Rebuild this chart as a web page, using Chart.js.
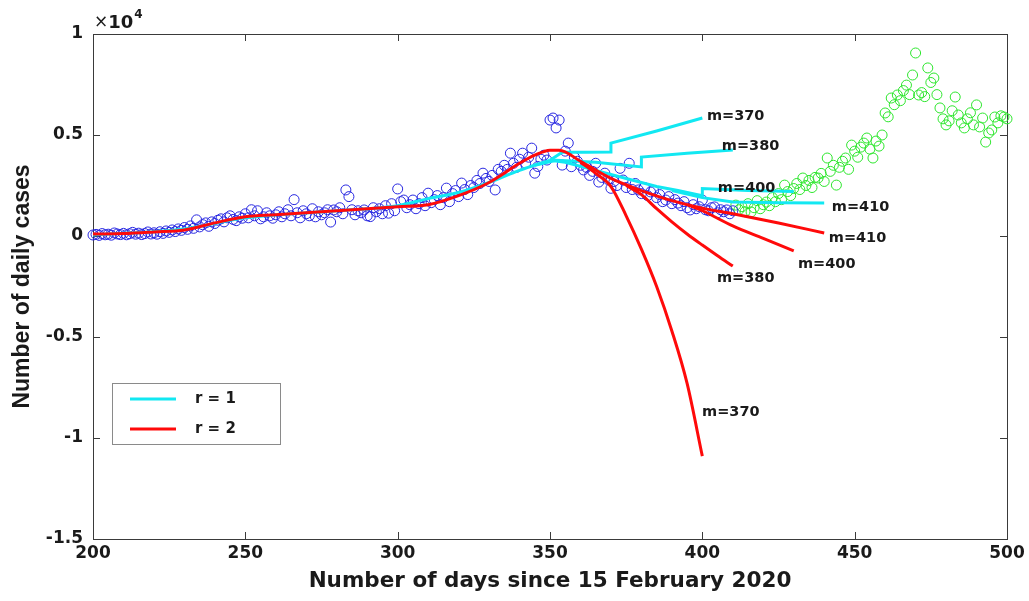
<!DOCTYPE html>
<html><head><meta charset="utf-8">
<script src="https://cdn.jsdelivr.net/npm/chart.js@4/dist/chart.umd.min.js"></script>
<style>html,body{margin:0;padding:0;background:#fff;overflow:hidden}canvas{display:block}</style>
</head><body>
<canvas id="c" width="1029" height="601"></canvas>
<script>
// ---------------- DATA ----------------
const xTickValues = [200, 250, 300, 350, 400, 450, 500];
const yTickValues = [-15000, -10000, -5000, 0, 5000, 10000];
const yExponentLabel = '×10';
const yExponent = '4';

// observed daily cases used for fitting (blue), days 200..410
const fitStartDay = 200;
const fitCases = [
  50, 80, 30, 120, 60, 90, 40, 150, 100, 70,
  130, 60, 110, 180, 90, 140, 70, 120, 200, 100,
  160, 90, 210, 130, 250, 180, 300, 220, 350, 280,
  420, 330, 500, 380, 800, 450, 560, 650, 480, 700,
  620, 780, 850, 700, 900, 1000, 820, 760, 950, 880,
  1100, 900, 1300, 1000, 1250, 850, 950, 1150, 1000, 880,
  1050, 1200, 950, 1100, 1300, 1000, 1800, 1150, 900, 1250,
  1100, 1000, 1350, 950, 1200, 1050, 1150, 1300, 690, 1290,
  1200, 1400, 1100, 2280, 1950, 1300, 1050, 1250, 1150, 1290,
  1000, 960, 1400, 1200, 1350, 1100, 1500, 1130, 1600, 1250,
  2330, 1700, 1780, 1400, 1550, 1780, 1350, 1600, 1900, 1500,
  2120, 1650, 1800, 2000, 1550, 1900, 2370, 1700, 2100, 2250,
  1950, 2620, 2300, 2050, 2500, 2400, 2750, 2600, 3110, 2850,
  2700, 3000, 2280, 3300, 3200, 3500, 3300, 4100, 3600, 3400,
  3800, 4100, 3600, 3900, 4350, 3110, 3440, 3800, 4000, 3760,
  5740, 5840, 5350, 5740, 3510, 4200, 4600, 3430, 3900, 3700,
  3500, 3270, 3400, 3000, 3200, 3600, 2670, 2900, 3110, 2800,
  2360, 2700, 2500, 3350, 2770, 2400, 3600, 2300, 2600, 2280,
  2100, 2400, 2000, 2180, 2250, 1900, 2050, 1700, 1780, 1950,
  1600, 1800, 1630, 1500, 1700, 1400, 1290, 1550, 1350, 1450,
  1780, 1300, 1250, 1400, 1440, 1150, 1300, 1200, 1290, 1100, 1250
];

// later observed daily cases (green), days 411..500
const laterStartDay = 411;
const laterCases = [
  1530, 1300, 1450, 1200, 1600, 1190, 1400, 1750, 1350, 1550,
  1680, 1500, 1900, 1700, 2100, 1800, 2520, 2200, 2000, 2350,
  2600, 2300, 2870, 2500, 2750, 2400, 2900, 2870, 3100, 2700,
  3860, 3200, 3500, 2520, 3400, 3700, 3860, 3300, 4500, 4200,
  3900, 4400, 4600, 4850, 4300, 3860, 4700, 4450, 5000, 6090,
  5900, 6830, 6500, 6980, 6700, 7200, 7470, 7000, 7970, 9060,
  6980, 7100, 6900, 8320, 7600, 7820, 7000, 6340, 5800, 5500,
  5700, 6200, 6880, 5990, 5600, 5350, 5800, 6100, 5500, 6490,
  5400, 5840, 4650, 5100, 5250, 5890, 5600, 5950, 5890, 5800
];

// r = 1 fits (cyan)
const cyanBaseDays = [200, 230, 250, 280, 300, 310, 320, 330, 340, 350];
const cyanBase     = [50, 350, 900, 1250, 1500, 1850, 2150, 2650, 3250, 3750];
const cyanM370Days = [350, 354, 362, 370, 370, 385, 400];
const cyanM370     = [3750, 4150, 4150, 4160, 4600, 5200, 5840];
const cyanM380Days = [345, 352, 365, 380, 380, 395, 410];
const cyanM380     = [3500, 3750, 3650, 3420, 3910, 4100, 4260];
const cyanM400Days = [350, 355, 365, 375, 385, 392, 400, 400, 415, 430];
const cyanM400     = [3750, 3650, 3250, 2850, 2450, 2250, 2000, 2350, 2250, 2200];
const cyanM410Days = [390, 400, 410, 425, 440];
const cyanM410     = [2250, 1900, 1680, 1650, 1630];

// r = 2 fits (red)
const redMainDays = [200, 210, 220, 230, 240, 250, 260, 270, 280, 290, 300, 310, 320, 330, 340, 345, 350, 353, 360, 370, 380, 390, 400, 410, 425, 440];
const redMain     = [100, 120, 200, 300, 650, 950, 1050, 1150, 1250, 1350, 1450, 1550, 2000, 2650, 3600, 4000, 4250, 4250, 3700, 2850, 2250, 1750, 1380, 1100, 640, 150];
const redM400Days = [395, 400, 410, 420, 430];
const redM400     = [1550, 1250, 500, -120, -740];
const redM380Days = [375, 380, 385, 390, 395, 400, 405, 410];
const redM380     = [2500, 2050, 1350, 700, 100, -450, -980, -1490];
const redM370Days = [360, 365, 370, 375, 380, 385, 390, 395, 400];
const redM370     = [3650, 3100, 2450, 1000, -650, -2500, -4700, -7300, -10900];

// curve labels: text, anchor day, anchor value
const curveLabelText = ['m=370', 'm=380', 'm=400', 'm=410', 'm=410', 'm=400', 'm=380', 'm=370'];
const curveLabelDay  = [401.5, 406.4, 405.1, 442.5, 441.5, 431.4, 404.8, 399.9];
const curveLabelCase = [5940, 4455, 2376, 1436, -99, -1386, -2079, -8712];

const legendLabels = ['r = 1', 'r = 2'];
const xTitle = 'Number of days since 15 February 2020';
const yTitle = 'Number of daily cases';

// ---------------- BUILD ----------------
const CYAN = '#12e8f2', RED = '#ff0a0a', BLUE = 'rgb(40,40,225)', GREEN = 'rgb(45,230,45)';
const toPts = (days, vals) => days.map((d, i) => ({x: d, y: vals[i]}));
const seqPts = (start, vals) => vals.map((v, i) => ({x: start + i, y: v}));

function lineDs(label, days, vals, color, order, smooth, legend) {
  return {
    type: 'line', label, data: toPts(days, vals), borderColor: color, backgroundColor: color,
    borderWidth: 3, pointRadius: 0, showLine: true, fill: false, order,
    tension: 0, cubicInterpolationMode: smooth ? 'monotone' : 'default',
    legendItem: legend, clip: false
  };
}

const datasets = [
  { type: 'scatter', label: 'fit data', data: seqPts(fitStartDay, fitCases), borderColor: BLUE,
    backgroundColor: 'rgba(0,0,0,0)', pointRadius: 5, borderWidth: 1, pointHoverRadius: 5, order: 3, clip: false },
  { type: 'scatter', label: 'later data', data: seqPts(laterStartDay, laterCases), borderColor: GREEN,
    backgroundColor: 'rgba(0,0,0,0)', pointRadius: 5, borderWidth: 1, pointHoverRadius: 5, order: 3, clip: false },
  lineDs(legendLabels[0], cyanBaseDays, cyanBase, CYAN, 2, true, true),
  lineDs('cyan m370', cyanM370Days, cyanM370, CYAN, 2, false, false),
  lineDs('cyan m380', cyanM380Days, cyanM380, CYAN, 2, false, false),
  lineDs('cyan m400', cyanM400Days, cyanM400, CYAN, 2, false, false),
  lineDs('cyan m410', cyanM410Days, cyanM410, CYAN, 2, false, false),
  lineDs(legendLabels[1], redMainDays, redMain, RED, 1, true, true),
  lineDs('red m400', redM400Days, redM400, RED, 1, true, false),
  lineDs('red m380', redM380Days, redM380, RED, 1, true, false),
  lineDs('red m370', redM370Days, redM370, RED, 1, true, false)
];

const TXT = '#1a1a1a';
const BOLD = 'bold';
const WIDE = "'DejaVu Sans', 'Liberation Sans', sans-serif";

const frame = {
  id: 'frame',
  beforeDatasetsDraw(chart) {
    const {ctx, chartArea: a, scales: {x, y}} = chart;
    ctx.save();
    ctx.strokeStyle = '#3a3a3a';
    ctx.lineWidth = 1;
    ctx.strokeRect(a.left + 0.5, a.top + 0.5, a.right - a.left, a.bottom - a.top);
    const tl = 7;
    ctx.beginPath();
    xTickValues.forEach(v => {
      const px = Math.round(x.getPixelForValue(v)) + 0.5;
      ctx.moveTo(px, a.bottom); ctx.lineTo(px, a.bottom - tl);
      ctx.moveTo(px, a.top); ctx.lineTo(px, a.top + tl);
    });
    yTickValues.forEach(v => {
      const py = Math.round(y.getPixelForValue(v)) + 0.5;
      ctx.moveTo(a.left, py); ctx.lineTo(a.left + tl, py);
      ctx.moveTo(a.right, py); ctx.lineTo(a.right - tl, py);
    });
    ctx.stroke();
    ctx.restore();
  },
  afterDraw(chart) {
    const {ctx, chartArea: a, scales: {x, y}} = chart;
    ctx.save();
    // exponent label
    ctx.fillStyle = TXT;
    ctx.textBaseline = 'middle';
    ctx.textAlign = 'left';
    ctx.font = "17px 'DejaVu Sans', sans-serif";
    ctx.fillText(yExponentLabel.charAt(0), a.left + 1, a.top - 11);
    const w0 = ctx.measureText(yExponentLabel.charAt(0)).width;
    ctx.font = "bold 18px 'DejaVu Sans', sans-serif";
    ctx.fillText(yExponentLabel.slice(1), a.left + 1 + w0, a.top - 11);
    const w1 = ctx.measureText(yExponentLabel.slice(1)).width;
    ctx.font = "bold 12px 'DejaVu Sans', sans-serif";
    ctx.fillText(yExponent, a.left + 2 + w0 + w1, a.top - 19);

    // curve labels
    ctx.font = "bold 14.5px " + WIDE;
    ctx.fillStyle = TXT;
    curveLabelText.forEach((t, i) => {
      ctx.fillText(t, x.getPixelForValue(curveLabelDay[i]), y.getPixelForValue(curveLabelCase[i]));
    });

    // legend
    const items = chart.data.datasets.filter(d => d.legendItem);
    const bx = a.left + 19, by = a.bottom - 156, bw = 168, bh = 61;
    ctx.fillStyle = '#fff';
    ctx.fillRect(bx, by, bw, bh);
    ctx.strokeStyle = '#8a8a8a';
    ctx.lineWidth = 1;
    ctx.strokeRect(bx + 0.5, by + 0.5, bw, bh);
    ctx.font = "bold 15px " + WIDE;
    items.forEach((d, i) => {
      const ly = by + 16 + i * 30;
      ctx.strokeStyle = d.borderColor;
      ctx.lineWidth = 3;
      ctx.beginPath();
      ctx.moveTo(bx + 18, ly); ctx.lineTo(bx + 64, ly);
      ctx.stroke();
      ctx.fillStyle = TXT;
      ctx.fillText(d.label, bx + 83, ly);
    });
    ctx.restore();
  }
};

new Chart(document.getElementById('c'), {
  type: 'scatter',
  data: { datasets },
  options: {
    responsive: false,
    animation: false,
    events: [],
    layout: { padding: { top: 34, right: 22, left: 0, bottom: 0 } },
    plugins: { legend: { display: false }, tooltip: { enabled: false } },
    scales: {
      x: {
        type: 'linear', min: 200, max: 500,
        afterBuildTicks: s => { s.ticks = xTickValues.map(v => ({value: v})); },
        ticks: { font: { family: WIDE, weight: BOLD, size: 17 }, color: TXT, padding: 4, maxRotation: 0, autoSkip: false },
        grid: { display: false, drawTicks: false },
        border: { display: false },
        title: { display: true, text: xTitle, color: TXT, font: { family: WIDE, weight: BOLD, size: 21.5 }, padding: { top: 0, bottom: 7 } },
        afterFit: s => { s.height = 62; }
      },
      y: {
        type: 'linear', min: -15000, max: 10000,
        afterBuildTicks: s => { s.ticks = yTickValues.map(v => ({value: v})); },
        ticks: { font: { family: WIDE, weight: BOLD, size: 17 }, color: TXT, padding: 10, autoSkip: false,
                 callback: v => String(v / 10000) },
        grid: { display: false, drawTicks: false },
        border: { display: false },
        title: { display: true, text: yTitle, color: TXT, font: { family: "'Liberation Sans Narrow', 'Liberation Sans', sans-serif", weight: BOLD, size: 23 }, padding: { top: 9, bottom: 0 } },
        afterFit: s => { s.width = 93; }
      }
    }
  },
  plugins: [frame]
});
</script>
</body></html>
